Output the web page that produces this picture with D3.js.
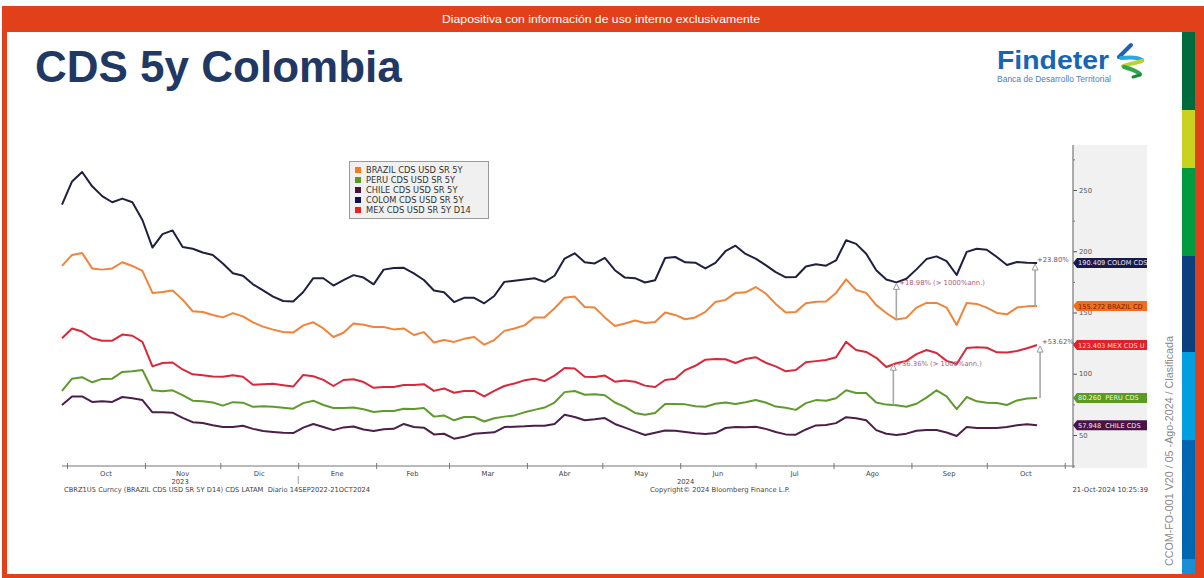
<!DOCTYPE html>
<html><head><meta charset="utf-8">
<script src="https://cdn.jsdelivr.net/npm/d3@7"></script>
<style>
body{margin:0;background:#fff}
svg{display:block}
text{font-family:"DejaVu Sans",Verdana,sans-serif}
</style>
</head><body>
<svg id="c" width="1204" height="578"></svg>
<script>
// ---------------- DATA ----------------
// sampling every 4 days from 29-Sep-2023 to 21-Oct-2024 (98 points)
const startDate = new Date(2023, 8, 29);
const dates = d3.range(98).map(i => d3.timeDay.offset(startDate, 4 * i));

const colom = [238, 257, 264.7, 253, 245, 240, 243, 240, 225.5, 203,
 214, 217, 203.5, 202, 199, 197, 190, 182, 180, 173,
 168, 163, 159.4, 159, 166.7, 178, 178, 172, 176.5, 180.5,
 178.5, 173, 185, 186.4, 186.5, 182, 176.5, 168, 166.5, 158.5,
 162, 162, 157.5, 163.5, 175, 176, 177, 178, 175, 180,
 194, 198.3, 191, 190, 194.5, 184.5, 178.5, 178, 174.5, 176.3,
 194.5, 195.3, 191, 190.7, 186, 190.5, 200, 204.5, 197.8, 194,
 188.7, 183, 178.7, 179, 187.6, 189.3, 188.2, 192.5, 209, 206,
 198, 184.5, 177, 174.6, 177.5, 185.2, 193.6, 195.8, 192, 180.6,
 199.5, 202, 201.2, 195.3, 188.8, 191.2, 190.6, 190.409];

const brazil = [188, 197, 198.6, 186, 185, 186, 191, 188, 184, 166,
 166.7, 168, 160.5, 151, 150.4, 148, 146, 149.5, 146.8, 142,
 138.5, 136, 134, 133.6, 139.5, 142, 137, 130, 133.5, 141,
 140, 138.2, 138.2, 136.2, 137, 131.6, 134, 125.5, 127.5, 126,
 128.5, 130, 123.7, 127.5, 135, 137, 139.5, 146, 146, 153.5,
 162, 163, 154.5, 154, 146, 139, 141, 143.5, 141.4, 142.2,
 150, 148, 144.5, 146, 150.5, 158.6, 160.3, 166, 166.5, 170.8,
 165.5, 157, 150, 150.5, 157.5, 158.8, 159, 166, 177, 168.4,
 166, 156, 149.6, 144.2, 145.6, 154, 157.8, 157.8, 154, 139.8,
 157.8, 157, 154, 149.6, 148.5, 154, 155, 155.272];

const mex = [129, 137, 134.5, 129, 127, 127, 132, 131, 126, 106,
 108.8, 109.2, 103.5, 99.5, 98.7, 97.8, 97.5, 98.7, 97.5, 91,
 91.5, 91.8, 90.6, 89.5, 99, 98, 95, 90, 94.9, 95.5,
 93.2, 88.5, 89.2, 89.2, 90.8, 90.8, 91.5, 86, 88, 84.5,
 86, 86, 81.5, 86, 90, 92, 94.6, 96, 94, 98.5,
 104.7, 104.2, 97.5, 97.3, 98.5, 93.5, 94.5, 93.5, 90.3, 89.2,
 94.9, 96, 103, 106.5, 111.5, 112, 111.8, 108.8, 112, 113.5,
 109, 106, 102, 103, 109.4, 110.3, 111.2, 113.5, 126, 119.4,
 117.8, 113, 105.5, 108.6, 110.5, 116, 119.4, 117, 110.5, 108,
 121, 121.7, 121.2, 117.5, 117.3, 118.5, 120.8, 123.403];

const peru = [86, 96, 97.2, 93, 95.8, 96, 101.5, 102, 103, 86.5,
 85.7, 86.5, 82.5, 78, 77.5, 76.5, 74, 76.8, 76.4, 73,
 73.5, 73, 72.2, 71.5, 76, 78, 74.5, 72, 72, 72.5,
 71, 68.8, 69.5, 69.6, 71.5, 71.2, 72, 65, 66, 62,
 64.7, 64.7, 61, 63.7, 65, 66, 68.5, 70.5, 72.4, 76.5,
 85, 85.9, 82.9, 83.3, 82.5, 76.5, 73, 68, 66.5, 68,
 75.3, 75.3, 75, 73.5, 73, 75.5, 76.5, 75.3, 76.8, 78.5,
 76.5, 73.2, 72.3, 70.5, 76, 78.5, 77.9, 80, 86.5, 84.3,
 84.3, 76.5, 74.8, 74.2, 73, 75.5, 80.5, 86.5, 81.5, 71.2,
 81, 77.5, 76.4, 76.1, 74.5, 78.2, 79.8, 80.26];

const chile = [74.5, 81.5, 81.5, 77, 77.5, 77, 81, 80, 78.5, 68.5,
 68.5, 68.2, 64, 60.5, 59.8, 58, 56.5, 56.5, 57.5, 55,
 53.2, 52.5, 51.8, 51.6, 56, 59, 56.5, 54, 56.2, 57,
 54.5, 53.3, 54.7, 55, 59, 56.5, 56, 50.5, 51, 47,
 48.5, 51, 51.6, 52.2, 56.5, 56.8, 57.1, 57.6, 57.5, 59,
 66.5, 64.7, 62, 62.8, 63.8, 59, 56, 53, 50, 51.8,
 53.6, 53.5, 52.5, 51.4, 50.9, 51.6, 55.7, 56.5, 56.3, 56.7,
 55, 52.5, 50.5, 50.3, 54.5, 57.8, 58.2, 59.7, 64.5, 63.7,
 62, 54, 51, 50, 51.1, 53.5, 54.1, 54.1, 52, 49.2,
 56.5, 55.7, 55.7, 55.8, 56.6, 57.9, 58.8, 57.948];

const seriesNames = ["BRAZIL", "PERU", "CHILE", "COLOM", "MEX"];
const legendLabels = ["BRAZIL CDS USD SR 5Y", "PERU CDS USD SR 5Y", "CHILE CDS USD SR 5Y", "COLOM CDS USD SR 5Y", "MEX CDS USD SR 5Y D14"];
const tagLabels = ["155.272 BRAZIL CD", "80.260  PERU CDS", "57.948  CHILE CDS", "190.409 COLOM CDS", "123.403 MEX CDS U"];
const seriesValues = [brazil, peru, chile, colom, mex];

const monthLabels = ["Oct", "Nov", "Dic", "Ene", "Feb", "Mar", "Abr", "May", "Jun", "Jul", "Ago", "Sep", "Oct"];
const yearLabels = ["2023", "2024"];
const yTickValues = [50, 100, 150, 200, 250];
const yMinorValues = [25, 75, 125, 175, 225, 275];

// annotations: upper series, lower series, data index, label
const annotations = [
  {up: "COLOM", low: "BRAZIL", idx: 83, label: "+18.98% (> 1000%ann.)", side: "mid", dx: 0},
  {up: "MEX", low: "PERU", idx: 83, label: "+36.36% (> 1000%ann.)", side: "mid", dx: -3},
  {up: "COLOM", low: "BRAZIL", idx: 97, label: "+23.80%", side: "end", dx: -2},
  {up: "MEX", low: "PERU", idx: 97, label: "+53.62%", side: "end", dx: 3}
];

// ---------------- STYLE ----------------
const lineColors = {BRAZIL: "#f0843a", PERU: "#5f9a2c", CHILE: "#4c1f4a", COLOM: "#1f1f40", MEX: "#d9283a"};
const legendColors = {BRAZIL: "#f47a20", PERU: "#5a9a20", CHILE: "#50103f", COLOM: "#10104a", MEX: "#e52222"};
const tagFill = {BRAZIL: "#f26e1c", PERU: "#5b9b1f", CHILE: "#4a1346", COLOM: "#1a1a4a", MEX: "#e0202a"};
const tagText = {BRAZIL: "#7a1a00", PERU: "#f2f2e0", CHILE: "#f4e8f2", COLOM: "#e6e6f2", MEX: "#ffd8d8"};

const svg = d3.select("#c");
const W = 1204, H = 578;
const orange = "#e2401b";

// ---------------- FRAME ----------------
svg.append("rect").attr("x", 0).attr("y", 0).attr("width", W).attr("height", H).attr("fill", "#fff");
svg.append("rect").attr("x", 2).attr("y", 6).attr("width", W - 2).attr("height", 26).attr("fill", orange);
svg.append("rect").attr("x", 2).attr("y", 6).attr("width", 5).attr("height", H - 6).attr("fill", orange);
svg.append("rect").attr("x", 1195).attr("y", 6).attr("width", 9).attr("height", H - 6).attr("fill", orange);
svg.append("rect").attr("x", 2).attr("y", 574).attr("width", W - 2).attr("height", 4).attr("fill", orange);
const strip = [[32, 110, "#006b3c"], [110, 168, "#c8d21f"], [168, 256, "#009a3f"], [256, 352, "#0b3f7e"],
  [352, 440, "#009fe0"], [440, 559, "#0066b2"], [559, 574, "#1a8ed4"]];
strip.forEach(s => svg.append("rect").attr("x", 1182).attr("y", s[0]).attr("width", 13).attr("height", s[1] - s[0]).attr("fill", s[2]));

svg.append("text").attr("x", 601).attr("y", 23).attr("text-anchor", "middle")
  .attr("fill", "#fff").style("font-family", "'Liberation Sans', Arial, sans-serif").style("font-size", "11.5px")
  .attr("textLength", 318).attr("lengthAdjust", "spacingAndGlyphs")
  .text("Diapositiva con información de uso interno exclusivamente");

// title
svg.append("text").attr("x", 35).attr("y", 82)
  .attr("fill", "#1f3864").style("font-family", "'Liberation Sans', Arial, sans-serif")
  .style("font-size", "44px").style("font-weight", "bold").text("CDS 5y Colombia");

// logo
svg.append("text").attr("x", 997).attr("y", 69).attr("fill", "#1766b5")
  .style("font-family", "'Liberation Sans', Arial, sans-serif").style("font-size", "26px").style("font-weight", "bold")
  .attr("textLength", 112).attr("lengthAdjust", "spacingAndGlyphs").text("Findeter");
svg.append("text").attr("x", 997).attr("y", 82).attr("fill", "#4a80c4")
  .style("font-family", "'Liberation Sans', Arial, sans-serif").style("font-size", "8.5px")
  .attr("textLength", 114).attr("lengthAdjust", "spacingAndGlyphs").text("Banca de Desarrollo Territorial");
const logo = svg.append("g").attr("fill", "none").attr("stroke-linecap", "round");
logo.append("path").attr("d", "M1119,57 L1131,45").attr("stroke", "#1f62b0").attr("stroke-width", 4);
logo.append("path").attr("d", "M1121,58 C1130,57 1138,57 1142,60").attr("stroke", "#27a8e0").attr("stroke-width", 4);
logo.append("path").attr("d", "M1142,61 C1136,63 1128,64 1123,66").attr("stroke", "#b8d333").attr("stroke-width", 4);
logo.append("path").attr("d", "M1124,67 C1131,69 1137,71 1140,74").attr("stroke", "#2ea64a").attr("stroke-width", 4);
logo.append("path").attr("d", "M1140,75 L1133,77").attr("stroke", "#178a3a").attr("stroke-width", 3);

// ---------------- CHART ----------------
const pLeft = 62, pRight = 1073, pTop = 145, pBottom = 466;
const x = d3.scaleTime().domain([new Date(2023, 8, 29), new Date(2024, 10, 4, 7)]).range([pLeft, pRight]);
const y = d3.scaleLinear().domain([24.69, 286.73]).range([pBottom, pTop]);

// right panel
svg.append("rect").attr("x", pRight).attr("y", pTop).attr("width", 1147 - pRight).attr("height", 468 - pTop).attr("fill", "#f1f1f1");

const fontSmall = "6.8px";
// right axis
const yAxis = svg.append("g").attr("transform", `translate(${pRight},0)`)
  .call(d3.axisRight(y).tickValues(yTickValues).tickSize(4).tickPadding(2).tickFormat(d3.format("d")));
yAxis.select(".domain").remove();
yAxis.selectAll("line").attr("stroke", "#555");
yAxis.selectAll("text").attr("fill", "#555").style("font-size", fontSmall).style("font-family", "'DejaVu Sans', sans-serif");
const yMinor = svg.append("g").attr("transform", `translate(${pRight},0)`)
  .call(d3.axisRight(y).tickValues(yMinorValues).tickSize(2).tickFormat(""));
yMinor.select(".domain").remove();
yMinor.selectAll("line").attr("stroke", "#777");
svg.append("line").attr("x1", pRight).attr("x2", pRight).attr("y1", pTop).attr("y2", 468).attr("stroke", "#777").attr("stroke-width", 1.2);

// bottom axis
svg.append("line").attr("x1", pLeft).attr("x2", pRight).attr("y1", pBottom).attr("y2", pBottom).attr("stroke", "#777").attr("stroke-width", 1.2);
const monthStarts = d3.timeMonth.range(new Date(2023, 9, 1), new Date(2024, 10, 2));
const xAxis = svg.append("g").attr("transform", `translate(0,${pBottom - 3})`)
  .call(d3.axisBottom(x).tickValues(monthStarts).tickSize(6).tickFormat(""));
xAxis.select(".domain").remove();
xAxis.selectAll("line").attr("stroke", "#777");

monthLabels.forEach((m, i) => {
  const a = monthStarts[i], b = d3.timeMonth.offset(a, 1);
  svg.append("text").attr("x", x(new Date((+a + +b) / 2))).attr("y", 476).attr("text-anchor", "middle")
    .attr("fill", "#444").style("font-size", fontSmall).text(m);
});
const yearBreak = new Date(2024, 0, 1);
const yearSpans = [[x.domain()[0], yearBreak], [yearBreak, x.domain()[1]]];
yearLabels.forEach((yl, i) => {
  const s = yearSpans[i];
  svg.append("text").attr("x", (x(s[0]) + x(s[1])) / 2).attr("y", 484).attr("text-anchor", "middle")
    .attr("fill", "#444").style("font-size", fontSmall).text(yl);
});
svg.append("line").attr("x1", x(yearBreak)).attr("x2", x(yearBreak)).attr("y1", 476).attr("y2", 484).attr("stroke", "#999");

// footer
svg.append("text").attr("x", 64).attr("y", 492).attr("fill", "#444").style("font-size", fontSmall)
  .attr("textLength", 306).attr("lengthAdjust", "spacingAndGlyphs").attr("xml:space", "preserve")
  .text("CBRZ1U5 Curncy (BRAZIL CDS USD SR 5Y D14) CDS LATAM  Diario 14SEP2022-21OCT2024");
svg.append("text").attr("x", 650).attr("y", 492).attr("fill", "#444").style("font-size", fontSmall)
  .attr("textLength", 140).attr("lengthAdjust", "spacingAndGlyphs").text("Copyright© 2024 Bloomberg Finance L.P.");
svg.append("text").attr("x", 1148).attr("y", 492).attr("fill", "#444").attr("text-anchor", "end").style("font-size", fontSmall)
  .text("21-Oct-2024 10:25:39");

// lines
const line = d3.line().x((d, i) => x(dates[i])).y(d => y(d));
seriesNames.forEach((n, k) => {
  svg.append("path").datum(seriesValues[k]).attr("d", line).attr("fill", "none")
    .attr("stroke", lineColors[n]).attr("stroke-width", 2).attr("stroke-linejoin", "round");
});

// annotations
const byName = {};
seriesNames.forEach((n, k) => byName[n] = seriesValues[k]);
annotations.forEach(a => {
  const xi = x(dates[a.idx]) + a.dx;
  const yu = y(byName[a.up][a.idx]);
  const yl = y(byName[a.low][a.idx]);
  svg.append("line").attr("x1", xi).attr("x2", xi).attr("y1", yl).attr("y2", yu + 6)
    .attr("stroke", "#a8a8a8").attr("stroke-width", 1.6);
  svg.append("path").attr("d", `M${xi},${yu + 1} L${xi + 3},${yu + 7} L${xi - 3},${yu + 7} Z`)
    .attr("fill", "#fff").attr("stroke", "#999").attr("stroke-width", 1);
  if (a.side === "end") {
    svg.append("text").attr("x", xi + 2).attr("y", yu - 1).attr("fill", "#5a6070").style("font-size", fontSmall).text(a.label);
  } else {
    svg.append("text").attr("x", xi + 3).attr("y", yu + 2.5).attr("fill", "#a8607e").style("font-size", fontSmall).text(a.label);
  }
});

// legend
const lg = svg.append("g");
lg.append("rect").attr("x", 349.5).attr("y", 161.5).attr("width", 139).attr("height", 57)
  .attr("fill", "#f0f0f0").attr("stroke", "#9a9a9a");
seriesNames.forEach((n, k) => {
  const yy = 170 + k * 10;
  lg.append("rect").attr("x", 355).attr("y", yy - 3).attr("width", 6).attr("height", 6).attr("fill", legendColors[n]);
  lg.append("text").attr("x", 366).attr("y", yy + 3).attr("fill", "#333").style("font-size", "8.3px").text(legendLabels[k]);
});

// value tags
seriesNames.forEach((n, k) => {
  const v = seriesValues[k][seriesValues[k].length - 1];
  const yc = y(v);
  svg.append("path").attr("d", `M${pRight},${yc} L${pRight + 4},${yc - 5} L1147,${yc - 5} L1147,${yc + 5} L${pRight + 4},${yc + 5} Z`)
    .attr("fill", tagFill[n]);
  svg.append("text").attr("x", pRight + 5).attr("y", yc + 2.5).attr("fill", tagText[n])
    .attr("xml:space", "preserve").style("white-space", "pre").style("font-size", "6.6px").text(tagLabels[k]);
});

// vertical side text
svg.append("text").attr("transform", "translate(1173,566) rotate(-90)")
  .attr("fill", "#8a8a8a").style("font-family", "'Liberation Sans', Arial, sans-serif").style("font-size", "11px")
  .attr("textLength", 230).attr("lengthAdjust", "spacingAndGlyphs")
  .text("CCOM-FO-001 V20 / 05 -Ago-2024 / Clasificada");
</script>
</body></html>
